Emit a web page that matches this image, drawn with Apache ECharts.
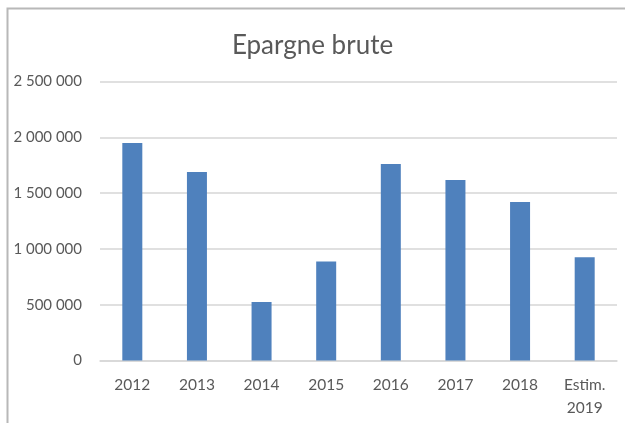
<!DOCTYPE html>
<html>
<head>
<meta charset="utf-8">
<style>
  html, body { margin: 0; padding: 0; background: #fff; }
  #chart { width: 625px; height: 423px; }
</style>
<script src="https://cdn.jsdelivr.net/npm/echarts@6/dist/echarts.min.js"></script>
</head>
<body>
<div id="chart"></div>
<script>
// données
var years = ['2012', '2013', '2014', '2015', '2016', '2017', '2018', 'Estim.\n2019'];
var epargne = [1950000, 1690000, 525000, 887000, 1761000, 1618000, 1420000, 926000];
var yTicks = [0, 500000, 1000000, 1500000, 2000000, 2500000];

var txtColor = '#595959';
var fontFam = 'Lato, "Open Sans", sans-serif';

function fmt(v) {
    return String(v).replace(/\B(?=(\d{3})+(?!\d))/g, ' ');
}

var chart = echarts.init(document.getElementById('chart'), null, { renderer: 'canvas' });
chart.setOption({
    animation: false,
    backgroundColor: '#fff',
    title: {
        text: 'Epargne brute',
        left: 'center',
        top: 28,
        textStyle: { fontFamily: fontFam, fontSize: 26, fontWeight: 'normal', color: txtColor }
    },
    graphic: [{
        type: 'rect',
        shape: { x: 7.5, y: 8.5, width: 640, height: 440 },
        style: { fill: 'none', stroke: '#b8b8b8', lineWidth: 2 },
        silent: true
    }],
    grid: { left: 100, right: 8, top: 81.5, bottom: 62.5, outerBoundsMode: 'none' },
    xAxis: {
        type: 'category',
        data: years,
        axisTick: { show: false },
        axisLine: { lineStyle: { color: '#d6d6d6', width: 1.5 } },
        axisLabel: {
            interval: 0, margin: 13, lineHeight: 23,
            fontFamily: fontFam, fontSize: 15.5, color: txtColor
        }
    },
    yAxis: {
        type: 'value',
        min: yTicks[0],
        max: yTicks[yTicks.length - 1],
        interval: yTicks[1] - yTicks[0],
        axisLine: { show: false },
        axisTick: { show: false },
        splitLine: { lineStyle: { color: '#d6d6d6', width: 1.5 } },
        axisLabel: {
            margin: 18, formatter: fmt,
            fontFamily: fontFam, fontSize: 15, color: txtColor
        }
    },
    series: [{
        type: 'bar',
        data: epargne,
        barWidth: 20,
        itemStyle: { color: '#4f81bd' }
    }]
});
</script>
</body>
</html>
